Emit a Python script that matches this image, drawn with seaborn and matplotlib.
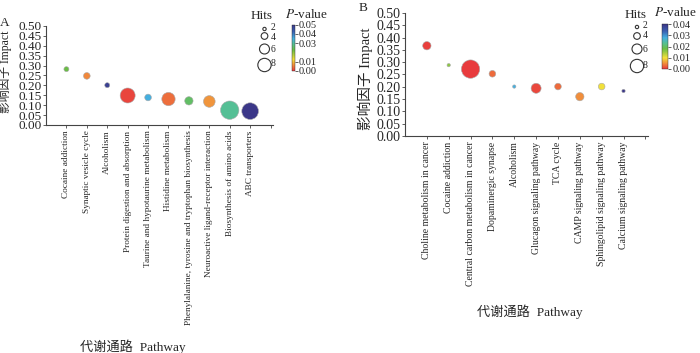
import numpy as np
import pandas as pd
import seaborn as sns
import matplotlib.pyplot as plt
from matplotlib.colors import LinearSegmentedColormap, Normalize
from matplotlib.cm import ScalarMappable

# panel A
pathways_a = ["Cocaine addiction", "Synaptic vesicle cycle", "Alcoholism",
              "Protein digestion and absorption",
              "Taurine and hypotaurine metabolism", "Histidine metabolism",
              "Phenylalanine, tyrosine and tryptophan biosynthesis",
              "Neuroactive ligand-receptor interaction",
              "Biosynthesis of amino acids", "ABC transporters"]
impact_a = [0.282, 0.248, 0.201, 0.149, 0.139, 0.131, 0.122, 0.119, 0.075, 0.070]
hits_a = [3, 4, 3, 9, 4, 8, 5, 7, 11, 10]
pval_a = [0.0225, 0.006, 0.048, 0.001, 0.035, 0.004, 0.025, 0.007, 0.029, 0.05]
cbar_ticks_a = [0.00, 0.01, 0.03, 0.04, 0.05]

# panel B
pathways_b = ["Choline metabolism in cancer", "Cocaine addiction",
              "Central carbon metabolism in cancer", "Dopaminergic synapse",
              "Alcoholism", "Glucagon signaling pathway", "TCA cycle",
              "CAMP signaling pathway", "Sphingolipid signaling pathway",
              "Calcium signaling pathway"]
impact_b = [0.367, 0.288, 0.272, 0.253, 0.201, 0.194, 0.201, 0.160, 0.201, 0.183]
hits_b = [5, 2, 11, 4, 2, 6, 4, 5, 4, 2]
pval_b = [0.0005, 0.016, 0.0002, 0.003, 0.028, 0.001, 0.003, 0.005, 0.010, 0.040]
cbar_ticks_b = [0.00, 0.01, 0.02, 0.03, 0.04]

legend_hits = [2, 4, 6, 8]

sns.set_style("white")
plt.rcParams['font.family'] = ['Liberation Serif', 'Noto Sans CJK SC']
plt.rcParams['mathtext.fontset'] = 'stix'

cmap = LinearSegmentedColormap.from_list("pv", [
    (0.0, "#e8383d"), (0.12, "#f08a3c"), (0.25, "#f2e03a"),
    (0.45, "#6abd45"), (0.58, "#55bf95"), (0.7, "#45b0e0"),
    (0.85, "#3a5fb0"), (1.0, "#3b3788")])

K = 1.44  # marker area per hits^2


def size_map(h):
    return {v: K * v ** 2 for v in sorted(set(h))}


fig = plt.figure(figsize=(7, 3.53), dpi=100)


def panel(rect, names, impact, hits, pval, vmax, ytick_fs, tick_fs):
    ax = fig.add_axes(rect)
    df = pd.DataFrame({"pos": np.arange(1, len(names) + 1), "impact": impact,
                       "hits": hits, "p": pval})
    sns.scatterplot(data=df, x="pos", y="impact", hue="p", palette=cmap,
                    hue_norm=Normalize(0, vmax), size="hits",
                    sizes=size_map(hits), edgecolor="#aaaaaa", linewidth=0.4,
                    alpha=1, legend=False, ax=ax)
    ax.set_xlim(0, 11.12)
    ax.set_ylim(0, 0.5)
    ax.set_xticks(np.arange(1, 12))
    ax.set_xticklabels(names + [""], rotation=90, fontsize=tick_fs, va="top")
    yt = np.arange(0, 0.501, 0.05)
    ax.set_yticks(yt)
    ax.set_yticklabels(["%.2f" % v for v in yt], fontsize=ytick_fs)
    ax.tick_params(axis="both", direction="out", length=2.5, width=0.6,
                   color="#444444", pad=1.5, left=True, bottom=True)
    ax.tick_params(axis="y", pad=0.5)
    for s in ["top", "right"]:
        ax.spines[s].set_visible(False)
    for s in ["left", "bottom"]:
        ax.spines[s].set_color("#444444")
        ax.spines[s].set_linewidth(0.8)
    ax.set_xlabel("")
    ax.set_ylabel("")
    return ax


def px(x, y):
    return x / 700, 1 - y / 353


ax_a = panel([46 / 700, 1 - 125 / 353, 227 / 700, 99 / 353], pathways_a,
             impact_a, hits_a, pval_a, 0.05, 9.5, 6.7)
ax_b = panel([405 / 700, 1 - 136 / 353, 243 / 700, 123 / 353], pathways_b,
             impact_b, hits_b, pval_b, 0.04, 10, 7)

# axis titles and panel letters
fig.text(*px(6, 72), "影响因子 Impact", rotation=90, ha="center", va="center", fontsize=8.5)
fig.text(*px(365, 79), "影响因子 Impact", rotation=90, ha="center", va="center", fontsize=10.5)
fig.text(*px(133, 347), "代谢通路  Pathway", ha="center", va="center", fontsize=9.5)
fig.text(*px(530, 312), "代谢通路  Pathway", ha="center", va="center", fontsize=9.5)
fig.text(*px(5, 23), "A", ha="center", va="center", fontsize=9.5)
fig.text(*px(363, 8), "B", ha="center", va="center", fontsize=9.5)


def colorbar(rect, vmax, ticks):
    cax = fig.add_axes(rect)
    sm = ScalarMappable(norm=Normalize(0, vmax), cmap=cmap)
    cb = fig.colorbar(sm, cax=cax, ticks=ticks)
    cb.ax.set_yticklabels(["%.2f" % t for t in ticks])
    cb.ax.tick_params(labelsize=7.5, length=2.5, width=0.5, pad=0.5)
    cb.outline.set_linewidth(0.3)
    return cb


colorbar([291.5 / 700, 1 - 71 / 353, 3 / 700, 46.5 / 353], 0.05, cbar_ticks_a)
colorbar([662 / 700, 1 - 69 / 353, 6 / 700, 44.7 / 353], 0.04, cbar_ticks_b)


def hits_legend(x0, ys, xlab, label_ys, hx, hy, pvx, pvy):
    lax = fig.add_axes([0, 0, 1, 1], facecolor="none")
    lax.set_xlim(0, 700)
    lax.set_ylim(353, 0)
    lax.axis("off")
    lax.scatter([x0] * len(legend_hits), ys, s=[K * h ** 2 for h in legend_hits],
                facecolor="white", edgecolor="#333333", linewidth=0.8)
    for h, y in zip(legend_hits, label_ys):
        lax.text(xlab, y, str(h), fontsize=7, va="center", ha="left")
    lax.text(hx, hy, "Hits", fontsize=9.5, ha="center", va="center")
    lax.text(pvx, pvy, "$P$-value", fontsize=9.5, ha="center", va="center")


hits_legend(264.5, [29, 36, 49, 65], 271, [27.5, 37, 49, 64], 262, 16, 306, 14)
hits_legend(637, [27, 36, 49, 66], 643, [26, 35.5, 49, 65], 636, 15, 675, 12)

fig.savefig("out.png", dpi=100)
